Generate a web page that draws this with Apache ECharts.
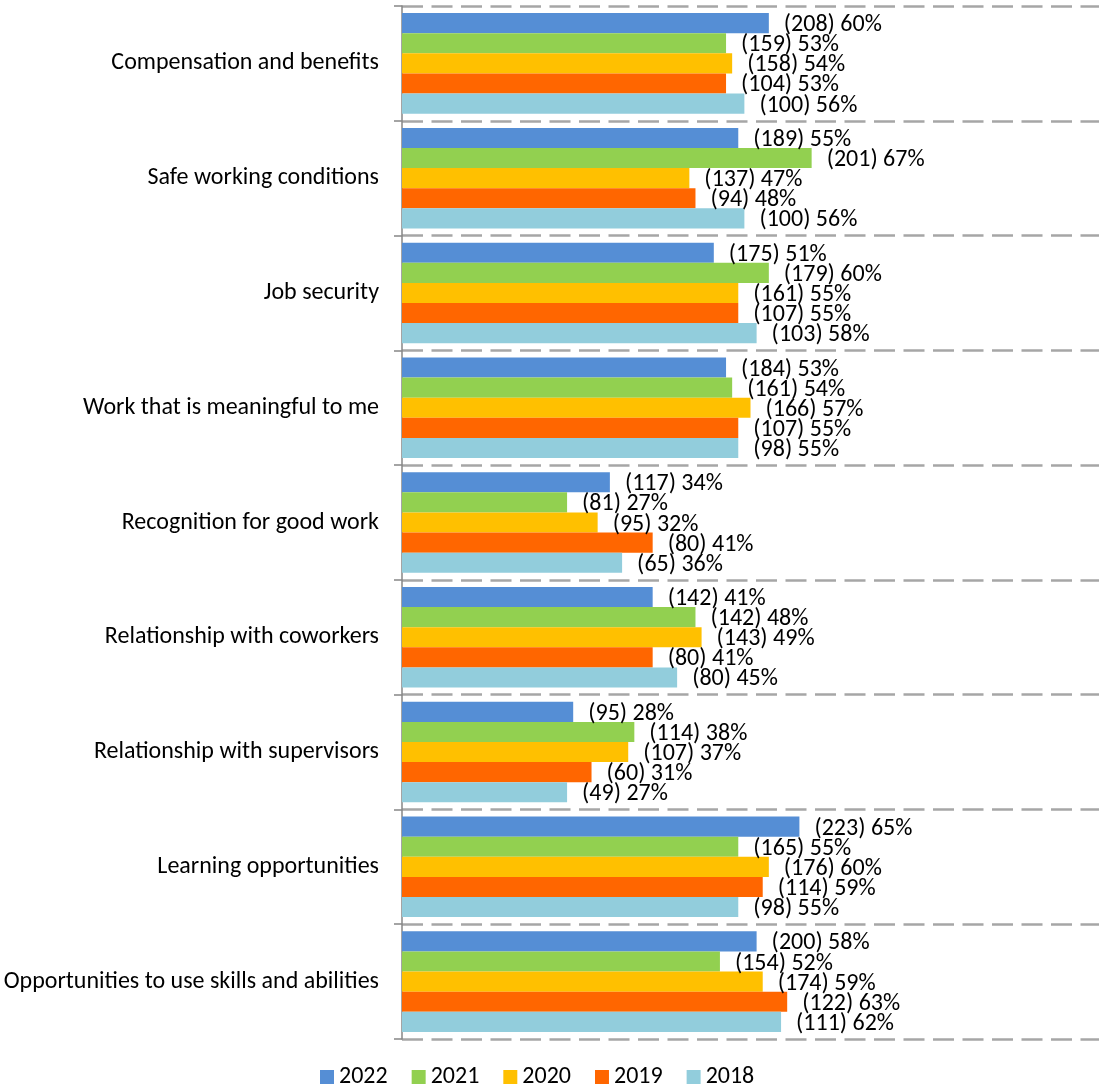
<!DOCTYPE html>
<html>
<head>
<meta charset="utf-8">
<script src="https://cdn.jsdelivr.net/npm/echarts@6/dist/echarts.min.js"></script>
<style>
  html, body { margin: 0; padding: 0; background: #fff; }
  #chart { width: 1099px; height: 1088px; }
</style>
</head>
<body>
<div id="chart"></div>
<script>
// Job satisfaction factors, top to bottom
const categories = [
  'Compensation and benefits',
  'Safe working conditions',
  'Job security',
  'Work that is meaningful to me',
  'Recognition for good work',
  'Relationship with coworkers',
  'Relationship with supervisors',
  'Learning opportunities',
  'Opportunities to use skills and abilities'
];

const years = ['2022', '2021', '2020', '2019', '2018'];

// Percent of respondents per year
const pct2022 = [60, 55, 51, 53, 34, 41, 28, 65, 58];
const pct2021 = [53, 67, 60, 54, 27, 48, 38, 55, 52];
const pct2020 = [54, 47, 55, 57, 32, 49, 37, 60, 59];
const pct2019 = [53, 48, 55, 55, 41, 41, 31, 59, 63];
const pct2018 = [56, 56, 58, 55, 36, 45, 27, 55, 62];

// Respondent counts per year
const cnt2022 = [208, 189, 175, 184, 117, 142, 95, 223, 200];
const cnt2021 = [159, 201, 179, 161, 81, 142, 114, 165, 154];
const cnt2020 = [158, 137, 161, 166, 95, 143, 107, 176, 174];
const cnt2019 = [104, 94, 107, 107, 80, 80, 60, 114, 122];
const cnt2018 = [100, 100, 103, 98, 65, 80, 49, 98, 111];

const colors = ['#558ED5', '#92D050', '#FFC000', '#FF6600', '#92CDDC'];
const pcts = [pct2022, pct2021, pct2020, pct2019, pct2018];
const cnts = [cnt2022, cnt2021, cnt2020, cnt2019, cnt2018];

const FONT = 'Carlito, Lato, "Liberation Sans", sans-serif';
const FS = 24;

const series = years.map((y, i) => ({
  name: y,
  type: 'bar',
  data: pcts[i],
  barGap: '0%',
  barCategoryGap: '12.4%',
  itemStyle: { color: colors[i] },
  label: {
    show: true,
    position: 'right',
    distance: 15,
    offset: [0, 2],
    fontFamily: FONT,
    fontSize: FS,
    color: '#000',
    formatter: p => '(' + cnts[i][p.dataIndex] + ') ' + p.value + '%'
  },
  emphasis: { disabled: true }
}));

const chart = echarts.init(document.getElementById('chart'));
chart.setOption({
  animation: false,
  grid: { left: 402, right: 0, top: 6, height: 1033, containLabel: false },
  legend: {
    data: years,
    top: 1060,
    left: 315,
    itemWidth: 14,
    itemHeight: 14,
    itemGap: 24,
    icon: 'rect',
    textStyle: { fontFamily: FONT, fontSize: FS, color: '#000', padding: [0, 0, 0, 0] }
  },
  xAxis: {
    type: 'value',
    min: 0,
    max: 114,
    show: false
  },
  yAxis: {
    type: 'category',
    data: categories,
    inverse: true,
    axisLine: { show: true, lineStyle: { color: '#868686', width: 1.5 } },
    axisTick: { show: true, length: 8, lineStyle: { color: '#868686', width: 1.5 } },
    splitLine: { show: true, lineStyle: { color: '#A6A6A6', width: 2.5, type: [21, 8.5] } },
    axisLabel: { fontFamily: FONT, fontSize: FS, color: '#000', margin: 23 }
  },
  series: series
});
</script>
</body>
</html>
